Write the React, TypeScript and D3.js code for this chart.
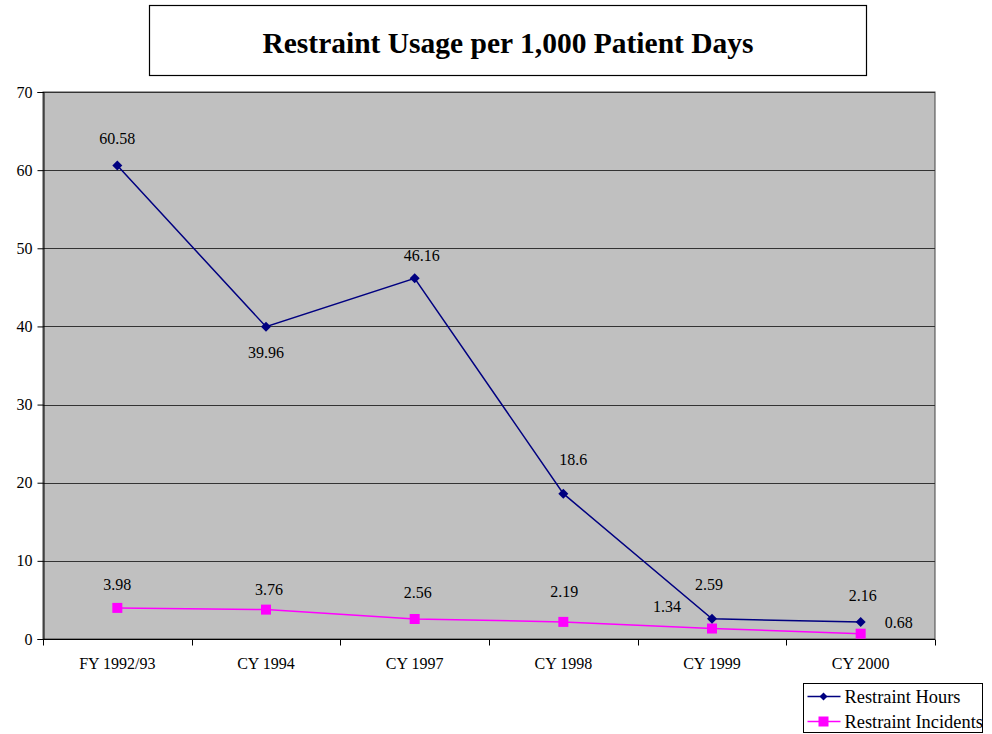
import React, { useEffect, useRef } from 'react';
import * as d3 from 'd3';

const categories = ['FY 1992/93', 'CY 1994', 'CY 1997', 'CY 1998', 'CY 1999', 'CY 2000'];
const hours = [60.58, 39.96, 46.16, 18.6, 2.59, 2.16];
const incidents = [3.98, 3.76, 2.56, 2.19, 1.34, 0.68];
const yTicks = [0, 10, 20, 30, 40, 50, 60, 70];

// label offsets (dx, dy) relative to each point, as Excel placed them
const hoursLabelOffsets: [number, number][] = [[0, -22], [0, 31], [7, -17], [10, -29], [-3, -29], [2, -21]];
const incLabelOffsets: [number, number][] = [[0, -18], [3, -15], [3, -21], [1, -25], [-45, -17], [38, -6]];

const W = 992;
const H = 734;
const margin = { top: 92, right: 57, bottom: 95, left: 43 };

const App: React.FC = () => {
  const svgRef = useRef<SVGSVGElement | null>(null);

  useEffect(() => {
    const svgEl = svgRef.current;
    if (!svgEl) return;
    const svg = d3.select(svgEl);
    svg.selectAll('*').remove();

    const font = 'Liberation Serif, Times New Roman, serif';
    const x0 = margin.left;
    const x1 = W - margin.right;
    const y0 = H - margin.bottom;
    const y1 = margin.top;

    const x = d3.scaleBand<string>().domain(categories).range([x0, x1]);
    const y = d3.scaleLinear().domain([0, 70]).range([y0, y1]);
    const cx = (i: number) => (x(categories[i]) as number) + x.bandwidth() / 2;

    // title box
    svg.append('rect').attr('x', 149.5).attr('y', 5.5).attr('width', 717).attr('height', 70)
      .attr('fill', '#fff').attr('stroke', '#000').attr('stroke-width', 1.2);
    svg.append('text').attr('x', 508).attr('y', 53).attr('text-anchor', 'middle')
      .style('font-family', font).attr('font-weight', 'bold').attr('font-size', 29.5)
      .text('Restraint Usage per 1,000 Patient Days');

    // plot area
    svg.append('rect').attr('x', x0).attr('y', y1).attr('width', x1 - x0).attr('height', y0 - y1)
      .attr('fill', '#c0c0c0').attr('stroke', '#444').attr('stroke-width', 1);

    svg.append('g').selectAll('line').data(yTicks.filter((t) => t > 0)).enter().append('line')
      .attr('x1', x0).attr('x2', x1)
      .attr('y1', (d) => Math.round(y(d)) + 0.5).attr('y2', (d) => Math.round(y(d)) + 0.5)
      .attr('stroke', '#333').attr('stroke-width', 1);

    // y axis
    const yAxis = svg.append('g').attr('transform', `translate(${x0 + 0.5},0)`)
      .call(d3.axisLeft(y).tickValues(yTicks).tickSize(6).tickPadding(5));
    yAxis.select('.domain').attr('stroke', '#000');
    yAxis.selectAll('.tick line').attr('stroke', '#000');
    yAxis.selectAll('text').style('font-family', font).attr('font-size', 16).attr('fill', '#000');

    // x axis
    const xAxisG = svg.append('g').attr('transform', `translate(0,${y0 + 0.5})`);
    xAxisG.append('line').attr('x1', x0).attr('x2', x1).attr('stroke', '#000');
    const boundaries = categories.map((c) => x(c) as number).concat([x1]);
    xAxisG.selectAll('line.tk').data(boundaries).enter().append('line').attr('class', 'tk')
      .attr('x1', (d) => Math.round(d) + 0.5).attr('x2', (d) => Math.round(d) + 0.5)
      .attr('y1', 0).attr('y2', 6).attr('stroke', '#000');
    xAxisG.selectAll('text').data(categories).enter().append('text')
      .attr('x', (_, i) => cx(i)).attr('y', 29).attr('text-anchor', 'middle')
      .style('font-family', font).attr('font-size', 16).text((d) => d);

    // series
    const line = d3.line<number>().x((_, i) => cx(i)).y((d) => y(d));

    svg.append('path').datum(incidents).attr('d', line).attr('fill', 'none')
      .attr('stroke', '#ff00ff').attr('stroke-width', 1.5);
    svg.append('g').selectAll('rect').data(incidents).enter().append('rect')
      .attr('x', (_, i) => cx(i) - 5).attr('y', (d) => y(d) - 5)
      .attr('width', 10).attr('height', 10).attr('fill', '#ff00ff');

    svg.append('path').datum(hours).attr('d', line).attr('fill', 'none')
      .attr('stroke', '#000080').attr('stroke-width', 1.5);
    svg.append('g').selectAll('path').data(hours).enter().append('path')
      .attr('d', 'M0,-5 L5,0 L0,5 L-5,0 Z')
      .attr('transform', (d, i) => `translate(${cx(i)},${y(d)})`).attr('fill', '#000080');

    // data labels
    const labels = svg.append('g').style('font-family', font).attr('font-size', 16).attr('text-anchor', 'middle');
    labels.selectAll('text.h').data(hours).enter().append('text').attr('class', 'h')
      .attr('x', (_, i) => cx(i) + hoursLabelOffsets[i][0])
      .attr('y', (d, i) => y(d) + hoursLabelOffsets[i][1])
      .text((d) => String(d));
    labels.selectAll('text.inc').data(incidents).enter().append('text').attr('class', 'inc')
      .attr('x', (_, i) => cx(i) + incLabelOffsets[i][0])
      .attr('y', (d, i) => y(d) + incLabelOffsets[i][1])
      .text((d) => String(d));

    // legend
    const lg = svg.append('g').attr('transform', 'translate(803.5,683.5)');
    lg.append('rect').attr('width', 179).attr('height', 49).attr('fill', '#fff').attr('stroke', '#000');
    const items = [
      { name: 'Restraint Hours', color: '#000080', shape: 'diamond' },
      { name: 'Restraint Incidents', color: '#ff00ff', shape: 'square' },
    ];
    items.forEach((it, i) => {
      const ly = 13 + i * 25;
      lg.append('line').attr('x1', 4).attr('x2', 37).attr('y1', ly).attr('y2', ly)
        .attr('stroke', it.color).attr('stroke-width', 1.5);
      if (it.shape === 'diamond') {
        lg.append('path').attr('d', 'M0,-4 L4,0 L0,4 L-4,0 Z')
          .attr('transform', `translate(20,${ly})`).attr('fill', it.color);
      } else {
        lg.append('rect').attr('x', 15).attr('y', ly - 5).attr('width', 10).attr('height', 10).attr('fill', it.color);
      }
      lg.append('text').attr('x', 41).attr('y', ly + 6).style('font-family', font).attr('font-size', 18.4)
        .text(it.name);
    });
  }, []);

  return (
    <div style={{ position: 'absolute', left: 0, top: 0, background: '#fff' }}>
      <svg ref={svgRef} width={W} height={H} style={{ display: 'block' }}></svg>
    </div>
  );
};

export default App;
